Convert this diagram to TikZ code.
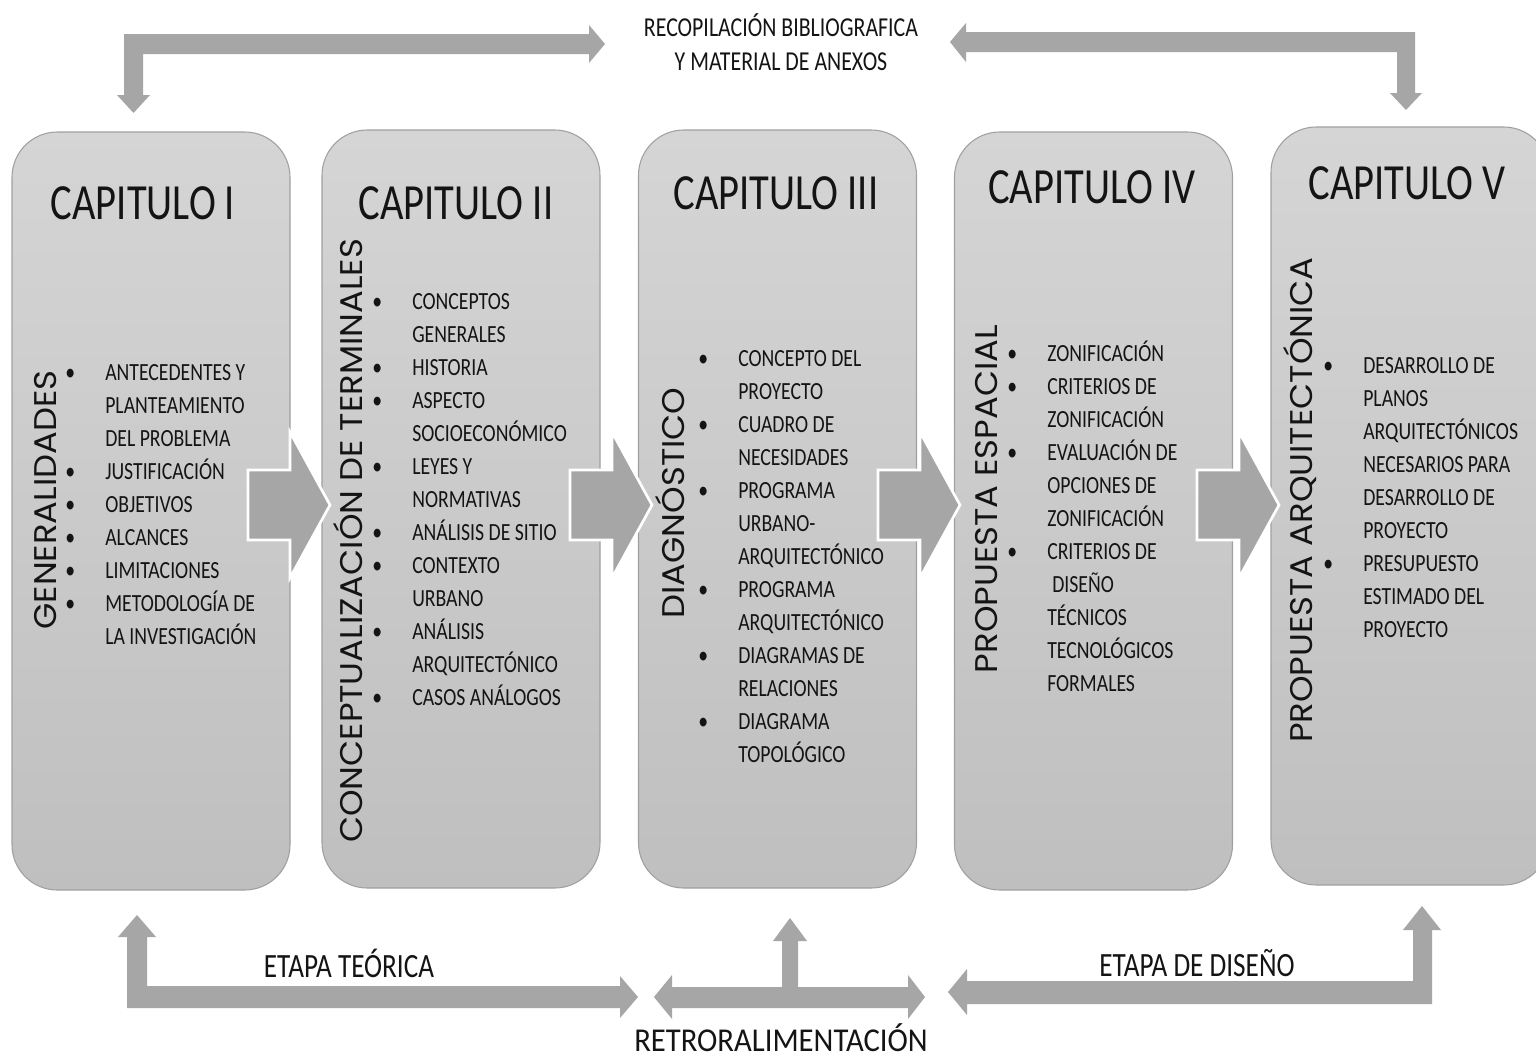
\documentclass[tikz,border=0pt]{standalone}
\usepackage{fontspec}
\setmainfont{Carlito}
\newfontfamily\bodyf[FakeStretch=0.8]{Carlito}
\newfontfamily\titlef[FakeStretch=0.8]{Carlito}
\newfontfamily\retrof[FakeStretch=0.92]{Carlito}
\newfontfamily\rotf[FakeStretch=1.08]{Poppins}
\definecolor{arrowgray}{RGB}{166,166,166}
\definecolor{boxtop}{RGB}{213,213,213}
\definecolor{boxbot}{RGB}{191,191,191}
\definecolor{boxline}{RGB}{160,160,160}
\definecolor{ink}{RGB}{20,20,20}
\newcommand\bl{\makebox[26.25pt][l]{\makebox[0pt][c]{\textbullet}}}
\newcommand\nb{\hspace*{26.25pt}}
\newcommand\bigarr[2]{%
  \draw[bigarrow] (#1,#2-35) -- ++(42,0) -- ++(0,-38) -- ++(40,73) -- ++(-40,73) -- ++(0,-38) -- ++(-42,0) -- cycle;}
\tikzset{
  box/.style={rounded corners=34pt, draw=boxline, line width=0.8pt, top color=boxtop, bottom color=boxbot,
    minimum width=208.5pt, minimum height=568.5pt, inner sep=0pt},
  chaptitle/.style={font=\titlef\fontsize{38pt}{42pt}\selectfont, text=ink, inner sep=0pt},
  lst/.style={font=\bodyf\fontsize{18.5pt}{24.75pt}\selectfont, text=ink, align=left, anchor=north west, inner sep=0pt},
  rot/.style={font=\rotf\fontsize{23.5pt}{26pt}\selectfont, text=ink, rotate=90, anchor=base, inner sep=0pt},
  lbl/.style={font=\bodyf\fontsize{25.5pt}{28pt}\selectfont, text=ink, inner sep=0pt},
  bigarrow/.style={fill=arrowgray, draw=white, line width=2pt, line join=miter},
  bent/.style={fill=arrowgray, draw=none}
}
\begin{document}
\begin{tikzpicture}[x=0.75pt,y=-0.75pt]
\useasboundingbox (0,0) rectangle (1536,1060);
\fill[white] (0,0) rectangle (1536,1060);

% boxes
\node[box] (b1) at (151,511) {};
\node[box] (b2) at (461,509) {};
\node[box] (b3) at (777.5,509) {};
\node[box] (b4) at (1093.5,511) {};
\node[box] (b5) at (1410,506) {};

% arrows between boxes
\bigarr{248}{505}
\bigarr{570}{505}
\bigarr{878}{505}
\bigarr{1197}{505}

% titles
\node[chaptitle] (t1) at (143,203) {CAPITULO I};
\node[chaptitle] (t2) at (456,203) {CAPITULO II};
\node[chaptitle] (t3) at (776,193) {CAPITULO III};
\node[chaptitle] (t4) at (1092,187) {CAPITULO IV};
\node[chaptitle] (t5) at (1407,183) {CAPITULO V};

% rotated labels
\node[rot] (r1) at (56,500) {GENERALIDADES};
\node[rot] (r2) at (362,541) {CONCEPTUALIZACIÓN DE TERMINALES};
\node[rot] (r3) at (684,503) {DIAGNÓSTICO};
\node[rot] (r4) at (997,499) {PROPUESTA ESPACIAL};
\node[rot] (r5) at (1312,500) {PROPUESTA ARQUITECTÓNICA};

% lists
\node[lst] (l1) at (70,357) {\strut\bl ANTECEDENTES Y\\ \nb PLANTEAMIENTO\\ \nb DEL PROBLEMA\\ \bl JUSTIFICACIÓN\\ \bl OBJETIVOS\\ \bl ALCANCES\\ \bl LIMITACIONES\\ \bl METODOLOGÍA DE\\ \nb LA INVESTIGACIÓN};
\node[lst] (l2) at (377,286) {\strut\bl CONCEPTOS\\ \nb GENERALES\\ \bl HISTORIA\\ \bl ASPECTO\\ \nb SOCIOECONÓMICO\\ \bl LEYES Y\\ \nb NORMATIVAS\\ \bl ANÁLISIS DE SITIO\\ \bl CONTEXTO\\ \nb URBANO\\ \bl ANÁLISIS\\ \nb ARQUITECTÓNICO\\ \bl CASOS ANÁLOGOS};
\node[lst] (l3) at (703,343) {\strut\bl CONCEPTO DEL\\ \nb PROYECTO\\ \bl CUADRO DE\\ \nb NECESIDADES\\ \bl PROGRAMA\\ \nb URBANO-\\ \nb ARQUITECTÓNICO\\ \bl PROGRAMA\\ \nb ARQUITECTÓNICO\\ \bl DIAGRAMAS DE\\ \nb RELACIONES\\ \bl DIAGRAMA\\ \nb TOPOLÓGICO};
\node[lst] (l4) at (1012,338) {\strut\bl ZONIFICACIÓN\\ \bl CRITERIOS DE\\ \nb ZONIFICACIÓN\\ \bl EVALUACIÓN DE\\ \nb OPCIONES DE\\ \nb ZONIFICACIÓN\\ \bl CRITERIOS DE\\ \hspace*{30pt}DISEÑO\\ \nb TÉCNICOS\\ \nb TECNOLÓGICOS\\ \nb FORMALES};
\node[lst] (l5) at (1328,350) {\strut\bl DESARROLLO DE\\ \nb PLANOS\\ \nb ARQUITECTÓNICOS\\ \nb NECESARIOS PARA\\ \nb DESARROLLO DE\\ \nb PROYECTO\\ \bl PRESUPUESTO\\ \nb ESTIMADO DEL\\ \nb PROYECTO};

% top label and bent arrows
\node[font=\bodyf\fontsize{20.5pt}{25.5pt}\selectfont, text=ink, align=center, inner sep=0pt] (recop) at (781,42) {RECOPILACIÓN BIBLIOGRAFICA\\Y MATERIAL DE ANEXOS};
\fill[bent] (124,34) -- (589,34) -- (589,25) -- (605,44) -- (589,63) -- (589,54) -- (143,54) -- (143,95) -- (150,95) -- (133.5,113) -- (117,95) -- (124,95) -- cycle;
\fill[bent] (950,42) -- (966,23) -- (966,32) -- (1415,32) -- (1415,93) -- (1422,93) -- (1406,110) -- (1390,93) -- (1397,93) -- (1397,52) -- (966,52) -- (966,62) -- cycle;

% bottom
\fill[bent] (137,915) -- (156,937) -- (147,937) -- (147,986) -- (620,986) -- (620,976) -- (638,997) -- (620,1018) -- (620,1008) -- (127,1008) -- (127,937) -- (118,937) -- cycle;
\fill[bent] (654,997) -- (672,975) -- (672,987) -- (782,987) -- (782,941) -- (773,941) -- (790,918) -- (807,941) -- (798,941) -- (798,987) -- (908,987) -- (908,975) -- (925,997) -- (908,1019) -- (908,1008) -- (672,1008) -- (672,1019) -- cycle;
\fill[bent] (948,992) -- (967,969) -- (967,981) -- (1413,981) -- (1413,930) -- (1403,930) -- (1422,906) -- (1441,930) -- (1432,930) -- (1432,1004) -- (967,1004) -- (967,1015) -- cycle;

\node[lbl] (et) at (349,963) {ETAPA TEÓRICA};
\node[lbl] (ed) at (1197,963) {ETAPA DE DISEÑO};
\node[font=\retrof\fontsize{25pt}{30pt}\selectfont, text=ink, inner sep=0pt, anchor=base] (retro) at (781,1051) {RETRORALIMENTACIÓN};
\end{tikzpicture}
\end{document}
